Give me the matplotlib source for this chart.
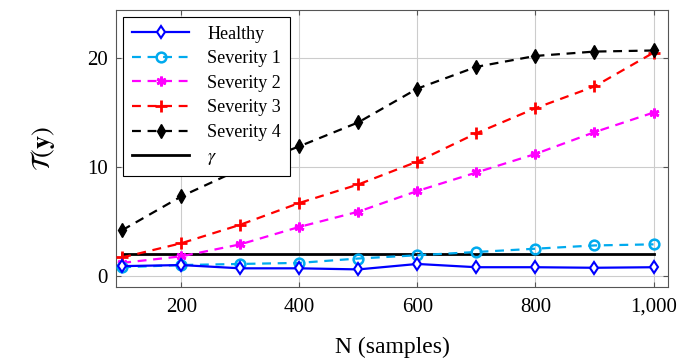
import numpy as np
import matplotlib.pyplot as plt
from matplotlib.ticker import FuncFormatter

plt.rcParams['font.family'] = ['Liberation Serif', 'DejaVu Serif']
plt.rcParams['mathtext.fontset'] = 'stix'

# Datos
n_samples = [100, 200, 300, 400, 500, 600, 700, 800, 900, 1000]
healthy = [0.9, 1.0, 0.7, 0.7, 0.6, 1.1, 0.8, 0.8, 0.75, 0.8]
severity_1 = [0.8, 1.0, 1.1, 1.2, 1.6, 1.9, 2.2, 2.5, 2.8, 2.9]
severity_2 = [1.2, 1.8, 2.9, 4.5, 5.9, 7.8, 9.5, 11.2, 13.2, 15.0]
severity_3 = [1.7, 3.0, 4.7, 6.7, 8.4, 10.5, 13.1, 15.4, 17.4, 20.5]
severity_4 = [4.2, 7.3, 9.8, 11.9, 14.1, 17.2, 19.2, 20.2, 20.6, 20.7]
gamma = 2.0

fig, ax = plt.subplots(figsize=(6.84, 3.64), dpi=100)

ax.plot(n_samples, healthy, color='blue', lw=1.6, marker='d', ms=6,
        mfc='white', mec='blue', mew=1.5, label='Healthy', zorder=5)
ax.plot(n_samples, severity_1, color='#00aaee', lw=1.6, ls=(0, (4, 3)), marker='o', ms=7,
        mfc='none', mec='#00aaee', mew=1.8, label='Severity 1', zorder=4)
ax.plot(n_samples, severity_2, color='magenta', lw=1.6, ls=(0, (4, 3)), marker=(6, 2, 0), ms=7,
        mew=2, label='Severity 2', zorder=3)
ax.plot(n_samples, severity_3, color='red', lw=1.6, ls=(0, (4, 3)), marker='+', ms=8,
        mew=2, label='Severity 3', zorder=3)
ax.plot(n_samples, severity_4, color='black', lw=1.6, ls=(0, (4, 3)), marker='d', ms=7.5,
        label='Severity 4', zorder=3)
ax.plot(n_samples, [gamma] * len(n_samples), color='black', lw=2, label=r'$\gamma$', zorder=2)

ax.set_xlim(90, 1025)
ax.set_ylim(-1, 24.4)
ax.set_xticks([200, 400, 600, 800, 1000])
ax.set_yticks([0, 10, 20])
ax.xaxis.set_major_formatter(FuncFormatter(lambda v, p: f'{int(v):,}'))
ax.tick_params(labelsize=15, direction='in', top=True, right=True, color='#555555')
ax.tick_params(axis='x', pad=8)
ax.tick_params(axis='y', pad=6)
ax.grid(True, color='#cccccc', lw=0.8)
ax.set_axisbelow(True)
for s in ax.spines.values():
    s.set_color('#555555')

ax.set_xlabel('N (samples)', fontsize=17, labelpad=14)
ax.set_ylabel(r'$\mathcal{T}(\mathbf{y})$', fontsize=19, labelpad=22)

leg = ax.legend(loc='upper left', fontsize=13, fancybox=False, edgecolor='black',
                framealpha=1, handlelength=3.2, borderaxespad=0.35, labelspacing=0.42,
                borderpad=0.5, handletextpad=1.0)
leg.get_frame().set_linewidth(0.8)

fig.subplots_adjust(left=0.17, right=0.977, top=0.972, bottom=0.212)
fig.savefig('out.png', dpi=100)
